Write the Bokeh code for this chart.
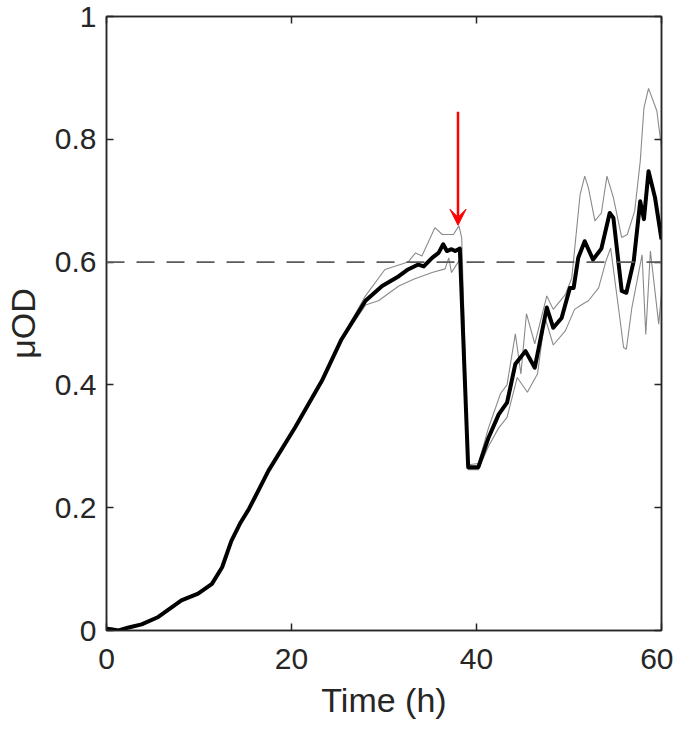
from bokeh.plotting import figure
from bokeh.models import (Range1d, FixedTicker, LinearAxis, Arrow, VeeHead, Span,
                          CustomJSTickFormatter)
from bokeh.embed import file_html
from bokeh.resources import INLINE

# ---- data ----
t_main = [0, 0.5, 1.3, 2.4, 3.8, 5.6, 8.1, 9.9, 11.4, 12.5, 13.5, 14.5, 15.4, 17.5, 20.4,
          23.3, 25.4, 28.0, 29.8, 31.6, 32.6, 33.7, 34.3, 35.2, 35.9, 36.4, 36.8, 37.3,
          37.7, 38.2, 39.1, 40.2, 41.3, 42.4, 43.3, 44.2, 45.3, 46.3, 47.6, 48.3, 49.2,
          50.1, 50.5, 51.0, 51.7, 52.6, 53.5, 54.4, 54.8, 55.7, 56.2, 57.0, 57.7, 58.1,
          58.6, 59.3, 60.0]
od_main = [0.003, 0.002, 0.0, 0.005, 0.010, 0.022, 0.049, 0.060, 0.076, 0.103, 0.146,
           0.176, 0.198, 0.260, 0.331, 0.407, 0.474, 0.537, 0.561, 0.577, 0.588, 0.596,
           0.593, 0.607, 0.615, 0.629, 0.618, 0.621, 0.618, 0.622, 0.266, 0.266, 0.314,
           0.352, 0.371, 0.434, 0.455, 0.428, 0.526, 0.493, 0.509, 0.558, 0.558, 0.607,
           0.634, 0.604, 0.622, 0.680, 0.672, 0.553, 0.550, 0.602, 0.699, 0.670, 0.748,
           0.705, 0.637]

t_rep_hi = [25.4, 28.0, 30.1, 32.6, 33.4, 34.1, 35.5, 36.3, 37.5, 38.1, 38.4, 39.1, 40.2,
            41.3, 42.6, 43.3, 44.2, 44.8, 45.4, 46.3, 47.6, 48.3, 49.6, 50.3, 51.2, 51.7,
            52.1, 52.8, 53.5, 54.1, 54.8, 55.7, 56.3, 57.1, 57.7, 58.1, 58.6, 59.5, 60.0]
od_rep_hi = [0.476, 0.545, 0.588, 0.600, 0.615, 0.610, 0.656, 0.645, 0.645, 0.659, 0.640,
             0.270, 0.272, 0.330, 0.386, 0.400, 0.483, 0.418, 0.516, 0.467, 0.545, 0.523,
             0.547, 0.574, 0.710, 0.740, 0.721, 0.667, 0.680, 0.740, 0.705, 0.640, 0.645,
             0.683, 0.764, 0.851, 0.883, 0.846, 0.786]

t_rep_lo = [25.4, 28.0, 29.4, 31.6, 33.2, 35.2, 36.6, 37.0, 37.3, 38.1, 38.4, 39.1, 40.2,
            41.3, 42.4, 43.3, 44.4, 45.5, 46.6, 47.4, 48.3, 49.6, 50.6, 51.4, 52.1, 53.2,
            54.0, 54.5, 55.4, 55.9, 56.2, 56.8, 57.9, 58.3, 58.8, 59.7, 60.0]
od_rep_lo = [0.472, 0.530, 0.537, 0.561, 0.572, 0.583, 0.589, 0.607, 0.583, 0.602, 0.600,
             0.262, 0.262, 0.300, 0.330, 0.347, 0.412, 0.388, 0.418, 0.510, 0.465, 0.488,
             0.523, 0.531, 0.537, 0.558, 0.602, 0.623, 0.520, 0.461, 0.458, 0.526, 0.612,
             0.482, 0.618, 0.499, 0.550]

setpoint = 0.6
arrow_time = 38.0
arrow_from = 0.845
arrow_to = 0.66

x_ticks = [0, 20, 40, 60]
y_ticks = [0, 0.2, 0.4, 0.6, 0.8, 1.0]

FONT = "Liberation Sans"
AX = "#262626"

p = figure(frame_width=555, frame_height=614, output_backend="svg", toolbar_location=None,
           x_range=Range1d(0, 60), y_range=Range1d(0, 1),
           min_border_left=104, min_border_right=12, min_border_top=16, min_border_bottom=90)
p.grid.visible = False
p.outline_line_color = AX
p.outline_line_width = 1.5
p.background_fill_color = "white"
p.border_fill_color = "white"

fmt = CustomJSTickFormatter(code="return String(Math.round(tick*10)/10);")
blank = CustomJSTickFormatter(code="return '';")

for ax, ticks in ((p.xaxis[0], x_ticks), (p.yaxis[0], y_ticks)):
    ax.ticker = FixedTicker(ticks=ticks)
    ax.formatter = fmt
    ax.major_tick_in = 7
    ax.major_tick_out = 0
    ax.minor_tick_line_color = None
    ax.axis_line_color = AX
    ax.axis_line_width = 1.5
    ax.major_tick_line_color = AX
    ax.major_tick_line_width = 1.5
    ax.major_label_text_font = FONT
    ax.major_label_text_font_size = "30px"
    ax.major_label_text_color = AX
    ax.axis_label_text_font = FONT
    ax.axis_label_text_font_size = "34px"
    ax.axis_label_text_font_style = "normal"
    ax.axis_label_text_color = AX

p.xaxis.axis_label = "Time (h)"
p.yaxis.axis_label = "\u03bcOD"
p.xaxis.major_label_standoff = 18
p.xaxis.axis_label_standoff = 9
p.yaxis.major_label_standoff = 10
p.yaxis.axis_label_standoff = 10

for loc, ticks in (("above", x_ticks), ("right", y_ticks)):
    ax = LinearAxis(ticker=FixedTicker(ticks=ticks), formatter=blank,
                    major_tick_in=7, major_tick_out=0,
                    minor_tick_line_color=None, axis_line_color=AX, axis_line_width=1.5,
                    major_tick_line_color=AX, major_tick_line_width=1.5,
                    major_label_standoff=0)
    p.add_layout(ax, loc)

p.add_layout(Span(location=setpoint, dimension="width", line_color="#5a5a5a",
                  line_width=1.8, line_dash="18 12"))

p.line(t_rep_hi, od_rep_hi, line_color="#8a8a8a", line_width=1.1)
p.line(t_rep_lo, od_rep_lo, line_color="#8a8a8a", line_width=1.1)
p.line(t_main, od_main, line_color="black", line_width=4, line_join="round")

p.add_layout(Arrow(end=VeeHead(size=16, fill_color="red", line_color="red"),
                   x_start=arrow_time, y_start=arrow_from, x_end=arrow_time, y_end=arrow_to,
                   line_color="red", line_width=2.5))

open("out.html", "w").write(file_html(p, INLINE))
